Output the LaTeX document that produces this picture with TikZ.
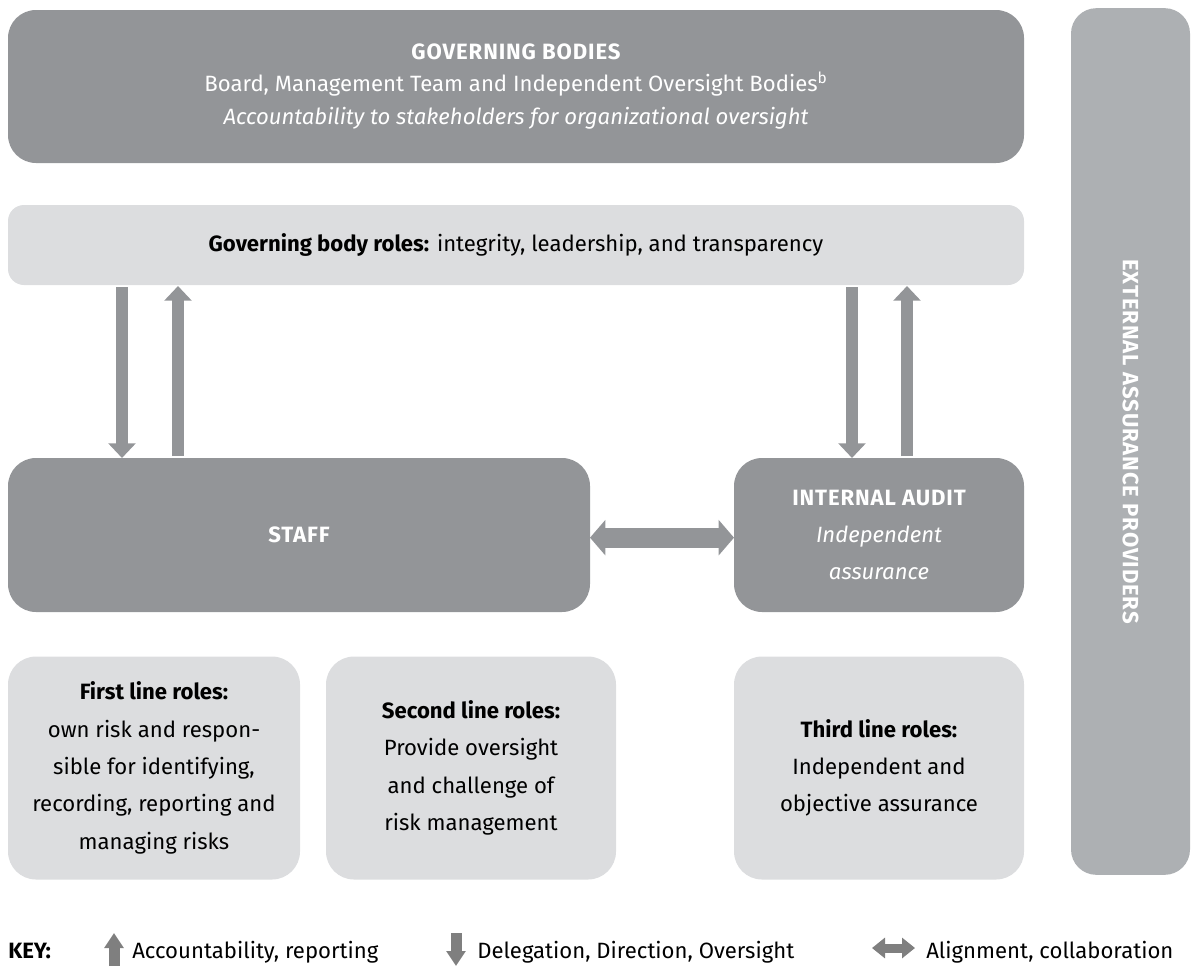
\documentclass[tikz,border=0pt]{standalone}
\usepackage{fontspec}
\setmainfont{Fira Sans}
\usetikzlibrary{arrows.meta}
\definecolor{dgray}{HTML}{939598}
\definecolor{lgray}{HTML}{DCDDDF}
\definecolor{egray}{HTML}{ADB0B3}
\definecolor{kgray}{HTML}{7F7F7F}
\newcommand{\capsb}[1]{{\bfseries\addfontfeature{LetterSpace=4}#1}}
\begin{document}
\begin{tikzpicture}[x=0.75pt,y=-0.75pt,
  base/.style={inner sep=0pt, outer sep=0pt, align=center, font=\fontsize{16.6}{28}\selectfont},
  darkbox/.style={base, fill=dgray, text=white, rounded corners=21pt},
  lightbox/.style={base, fill=lgray, text=black, rounded corners=21pt},
  extbox/.style={base, fill=egray, rounded corners=19pt},
  varrow/.style={draw=dgray, line width=9pt, -{Triangle[length=11pt,width=20pt]}},
  harrow/.style={draw=dgray, line width=15pt, {Triangle[length=11.5pt,width=26pt]}-{Triangle[length=11.5pt,width=26pt]}},
  keytext/.style={anchor=base west, inner sep=0pt, font=\fontsize{16.6}{18}\selectfont},
  keyup/.style={draw=kgray, line width=8.25pt, -{Triangle[length=11.25pt,width=14pt]}},
  keyboth/.style={draw=kgray, line width=6.75pt, {Triangle[length=9.75pt,width=15pt]}-{Triangle[length=9.75pt,width=15pt]}}
]
\useasboundingbox (0,0) rectangle (1198,967);

% boxes
\node[darkbox, minimum width=762pt, minimum height=114.75pt, font=\fontsize{16.6}{24.5}\selectfont] (gb) at (516,86.5)
  {\capsb{GOVERNING BODIES}\\Board, Management Team and Independent Oversight Bodies\textsuperscript{b}\\\textit{Accountability to stakeholders for organizational oversight}};
\node[lightbox, rounded corners=12pt, minimum width=762pt, minimum height=60pt] (gbr) at (516,245)
  {\textbf{Governing body roles:} integrity, leadership, and transparency};
\node[darkbox, minimum width=436.5pt, minimum height=115.5pt] (staff) at (299,535) {\capsb{STAFF}};
\node[darkbox, minimum width=217.5pt, minimum height=115.5pt] (ia) at (879,535)
  {\capsb{INTERNAL AUDIT}\\\textit{Independent}\\\textit{assurance}};
\node[lightbox, minimum width=219pt, minimum height=167.25pt] (first) at (154,768)
  {\textbf{First line roles:}\\own risk and respon-\\sible for identifying,\\recording, reporting and\\managing risks};
\node[lightbox, minimum width=217.5pt, minimum height=167.25pt] (second) at (471,768)
  {\textbf{Second line roles:}\\Provide oversight\\and challenge of\\risk management};
\node[lightbox, minimum width=217.5pt, minimum height=167.25pt] (third) at (879,768)
  {\textbf{Third line roles:}\\Independent and\\objective assurance};
\node[extbox, minimum width=89.25pt, minimum height=650pt] (ext) at (1130.5,441.5) {};
\node[base, text=white, rotate=-90] (extlabel) at (ext.center) {\capsb{EXTERNAL ASSURANCE PROVIDERS}};

% connectors
\coordinate (xa) at (122,0);
\coordinate (xb) at (178,0);
\coordinate (xc) at (852,0);
\coordinate (xd) at (907,0);
\draw[varrow] ([yshift=-1.5pt]gbr.south -| xa) -- (staff.north -| xa);
\draw[varrow] ([yshift=1.5pt]staff.north -| xb) -- ([yshift=-0.75pt]gbr.south -| xb);
\draw[varrow] ([yshift=-1.5pt]gbr.south -| xc) -- (ia.north -| xc);
\draw[varrow] ([yshift=1.5pt]staff.north -| xd) -- ([yshift=-0.75pt]gbr.south -| xd);
\draw[harrow] ([yshift=-2pt]staff.east) -- ([yshift=-2pt]ia.west);

% key
\node[keytext, font=\fontsize{16.6}{18}\selectfont\bfseries] (key) at (8,958) {KEY:};
\coordinate (ku1) at (114,966);
\coordinate (ku2) at (114,933);
\draw[keyup] (ku1) -- (ku2);
\node[keytext] (k1) at (132,958) {Accountability, reporting};
\coordinate (kd1) at (456,933);
\coordinate (kd2) at (456,966);
\draw[keyup] (kd1) -- (kd2);
\node[keytext] (k2) at (477,958) {Delegation, Direction, Oversight};
\coordinate (kb1) at (872,948);
\coordinate (kb2) at (915,948);
\draw[keyboth] (kb1) -- (kb2);
\node[keytext] (k3) at (926,958) {Alignment, collaboration};
\end{tikzpicture}
\end{document}
